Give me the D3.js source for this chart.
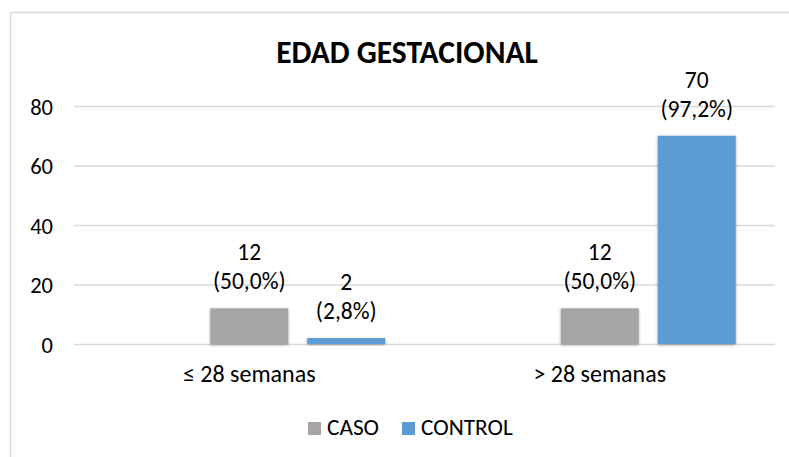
<!DOCTYPE html>
<html><head><meta charset="utf-8">
<script src="https://cdn.jsdelivr.net/npm/d3@7"></script>
<style>html,body{margin:0;padding:0;background:#fff;}svg{display:block;}text{font-family:Carlito,Calibri,Lato,sans-serif;fill:#000;}</style>
</head><body><svg id="c" width="789" height="457"></svg>
<script>
const categories = ["≤ 28 semanas", "> 28 semanas"];
const series = ["CASO", "CONTROL"];
const casoValues = [12, 12];
const controlValues = [2, 70];
const casoPct = ["50,0%", "50,0%"];
const controlPct = ["2,8%", "97,2%"];
const yTicks = [0, 20, 40, 60, 80];
const colors = {CASO: "#A5A5A5", CONTROL: "#5B9BD5"};

const svg = d3.select("#c");
const defs = svg.append("defs");
const f = defs.append("filter").attr("id","sh").attr("x","-20%").attr("y","-20%").attr("width","140%").attr("height","140%");
f.append("feDropShadow").attr("dx",0).attr("dy",1).attr("stdDeviation",1.6).attr("flood-color","#000").attr("flood-opacity",0.35);

svg.append("rect").attr("x",10.5).attr("y",12.5).attr("width",820).attr("height",500)
  .attr("fill","none").attr("stroke","#D9D9D9").attr("stroke-width",1.5);

const x0 = d3.scaleBand().domain(categories).range([74,775]).paddingInner(0).paddingOuter(0);
const slots = ["", ...series];
const x1 = d3.scaleBand().domain(slots).range([0, x0.bandwidth()]).paddingInner(0.196).paddingOuter(0.405);
const y = d3.scaleLinear().domain([0,80]).range([344,106]);

const yAxis = d3.axisLeft(y).tickValues(yTicks).tickSize(-(775-74)).tickFormat(d=>d);
const ga = svg.append("g").attr("transform","translate(74,0)").call(yAxis);
ga.select(".domain").remove();
ga.selectAll(".tick line").attr("stroke","#D9D9D9").attr("stroke-width",1.5);
ga.selectAll(".tick text").attr("x",-21).attr("dy","0.36em").style("font-size","22.5px").style("font-family","Carlito,Calibri,Lato,sans-serif");

const data = [];
categories.forEach((c,i)=>{
  data.push({cat:c, s:"CASO", v:casoValues[i], p:casoPct[i]});
  data.push({cat:c, s:"CONTROL", v:controlValues[i], p:controlPct[i]});
});

svg.append("g").selectAll("rect").data(data).join("rect")
  .attr("x",d=>x0(d.cat)+x1(d.s)).attr("width",x1.bandwidth())
  .attr("y",d=>y(d.v)).attr("height",d=>y(0)-y(d.v))
  .attr("fill",d=>colors[d.s]).attr("filter","url(#sh)");

const lg = svg.append("g").selectAll("g").data(data).join("g");
lg.append("text").attr("text-anchor","middle")
  .attr("x",d=>x0(d.cat)+x1(d.s)+x1.bandwidth()/2).attr("y",d=>y(d.v)-48)
  .style("font-size","23.5px").text(d=>d.v);
lg.append("text").attr("text-anchor","middle")
  .attr("x",d=>x0(d.cat)+x1(d.s)+x1.bandwidth()/2).attr("y",d=>y(d.v)-19)
  .style("font-size","23.5px").text(d=>"("+d.p+")");

svg.append("g").selectAll("text").data(categories).join("text")
  .attr("text-anchor","middle").attr("x",d=>x0(d)+x0.bandwidth()/2).attr("y",382)
  .style("font-size","24px").text(d=>d);

svg.append("text").attr("x",407).attr("y",63).attr("text-anchor","middle")
  .style("font-size","31.5px").style("font-weight","bold").text("EDAD GESTACIONAL");

const legX = [308, 402];
const leg = svg.append("g").selectAll("g").data(series).join("g")
  .attr("transform",(d,i)=>`translate(${legX[i]},0)`);
leg.append("rect").attr("x",0).attr("y",422).attr("width",13).attr("height",13).attr("fill",d=>colors[d]);
leg.append("text").attr("x",19).attr("y",435).style("font-size","23.3px").text(d=>d);
</script></body></html>
